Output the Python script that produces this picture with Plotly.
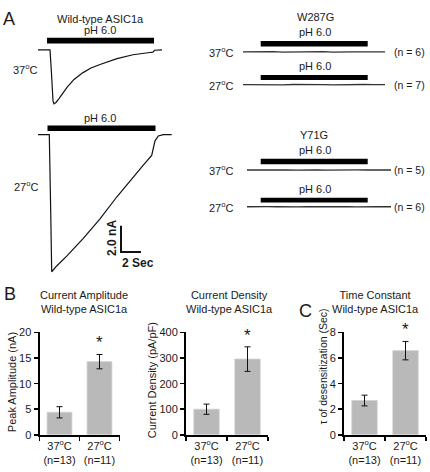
import plotly.graph_objects as go

W, H = 430, 472
FONT = "Liberation Sans, Arial, sans-serif"
TXT = "#1a1a1a"

# ---------------- data ----------------
# Wild-type ASIC1a current traces (time in s, current in nA)
wt37_t = [0, 1.2, 1.35, 1.5, 1.6, 1.8, 2.1, 2.5, 2.9, 3.6, 4.5, 5.3, 6.2, 7.9, 9.5, 11.2, 11.5, 11.65, 12.4]
wt37_i = [0, 0, -1.8, -3.9, -4.1, -4.0, -3.7, -3.25, -2.85, -2.25, -1.73, -1.38, -1.11, -0.67, -0.37, -0.2, -0.17, -0.03, 0]
wt27_t = [0, 1.13, 1.27, 1.37, 1.87, 2.87, 4.53, 6.2, 7.87, 9.53, 10.53, 11.37, 11.53, 11.7, 12.03, 12.53, 13.37]
wt27_i = [0, 0, -5.78, -10.42, -9.98, -9.23, -7.88, -6.4, -4.74, -3.19, -2.32, -1.58, -1.09, -0.47, -0.1, 0, 0]
wt_ph = {"37": (0.9, 11.6), "27": (0.95, 11.75)}

# mutant traces (essentially flat)
mut_t_w = [0, 1, 2, 3, 4, 5, 6, 7, 8, 9, 10, 11, 12, 13, 14.2]
w287g_37 = [0.0, 0.02, -0.01, 0.01, -0.02, 0.0, 0.02, -0.01, 0.01, -0.02, 0.01, 0.0, -0.01, 0.02, 0.0]
w287g_27 = [0.0, -0.01, 0.02, 0.0, -0.02, 0.01, -0.01, 0.02, 0.0, -0.01, 0.01, -0.02, 0.01, 0.0, 0.0]
mut_t_y = [0, 1, 2, 3, 4, 5, 6, 7, 8, 9, 10, 11, 12, 13, 14.4]
y71g_37 = [0.0, 0.01, -0.02, 0.01, 0.0, -0.01, 0.02, 0.0, -0.01, 0.01, -0.02, 0.01, 0.0, -0.01, 0.0]
y71g_27 = [0.0, -0.02, 0.01, 0.0, 0.02, -0.01, 0.0, 0.01, -0.02, 0.0, 0.01, -0.01, 0.02, 0.0, 0.0]
w287g_ph = (1.77, 12.47)
y71g_ph = (1.37, 12.07)
mut_n = {"w37": 6, "w27": 7, "y37": 5, "y27": 6}

# bar charts
cats = ["37<sup>o</sup>C<br>(n=13)", "27<sup>o</sup>C<br>(n=11)"]
amp_mean = [4.4, 14.3]
amp_err = [1.1, 1.4]
dens_mean = [100, 296]
dens_err = [20, 48]
tau_mean = [2.68, 6.58]
tau_err = [0.42, 0.72]

# scale bar (2 s, 2 nA)
SB_T, SB_I = 2.0, 2.0

# ---------------- layout helpers ----------------
PX_PER_S = 10.0
PX_PER_NA = 13.5

def fx(p):
    return p / W

def fy(p):
    return 1 - p / H

fig = go.Figure()
layout = {}
shapes = []
annotations = []

def ann(text, x, y, size=11, xanchor="center", yanchor="middle", bold=False, angle=0, color=TXT):
    annotations.append(dict(
        text=f"<b>{text}</b>" if bold else text, x=fx(x), y=fy(y), xref="paper", yref="paper",
        xanchor=xanchor, yanchor=yanchor, showarrow=False, textangle=angle,
        font=dict(family=FONT, size=size, color=color)))

def trace_axes(idx, x0, x1, base, top, bot):
    xa = "xaxis" if idx == 1 else f"xaxis{idx}"
    ya = "yaxis" if idx == 1 else f"yaxis{idx}"
    layout[xa] = dict(domain=[fx(x0), fx(x1)], range=[0, (x1 - x0) / PX_PER_S],
                      visible=False, anchor=f"y{'' if idx == 1 else idx}")
    layout[ya] = dict(domain=[fy(bot), fy(top)],
                      range=[-(bot - base) / PX_PER_NA, (base - top) / PX_PER_NA],
                      visible=False, anchor=f"x{'' if idx == 1 else idx}")
    return f"x{'' if idx == 1 else idx}", f"y{'' if idx == 1 else idx}"

def ph_bar(xref, on, off, top, bot):
    shapes.append(dict(type="rect", xref=xref, yref="paper", x0=on, x1=off,
                       y0=fy(bot), y1=fy(top), fillcolor="black", line=dict(width=0)))

# ---------------- panel A: wild type ----------------
xr, yr = trace_axes(1, 38, 172, 45, 28, 108)
fig.add_trace(go.Scatter(x=wt37_t, y=wt37_i, mode="lines", xaxis=xr, yaxis=yr,
                         line=dict(color="#111", width=1.2), showlegend=False, hoverinfo="skip"))
ph_bar(xr, *wt_ph["37"], 32.5, 38.5)

xr2, yr2 = trace_axes(2, 38, 178, 132, 118, 280)
fig.add_trace(go.Scatter(x=wt27_t, y=wt27_i, mode="lines", xaxis=xr2, yaxis=yr2,
                         line=dict(color="#111", width=1.2), showlegend=False, hoverinfo="skip"))
ph_bar(xr2, *wt_ph["27"], 122.7, 128.3)
# scale bar
sb_t0 = (121 - 38) / PX_PER_S
sb_i0 = -(252.5 - 132) / PX_PER_NA
fig.add_trace(go.Scatter(x=[sb_t0, sb_t0, sb_t0 + SB_T], y=[sb_i0 + SB_I, sb_i0, sb_i0],
                         mode="lines", xaxis=xr2, yaxis=yr2, line=dict(color="#111", width=2),
                         showlegend=False, hoverinfo="skip"))

ann("A", 9, 13, size=18)
ann("Wild-type ASIC1a", 100, 13)
ann("pH 6.0", 100, 25)
ann("37<sup>o</sup>C", 25, 65)
ann("pH 6.0", 100, 115)
ann("27<sup>o</sup>C", 26, 185)
ann("2.0 nA", 112, 238, size=12, bold=True, angle=-90)
ann("2 Sec", 138, 264, size=12, bold=True)

# ---------------- panel A: mutants ----------------
mut_specs = [
    (3, 243, 386, 47, mut_t_w, w287g_37, w287g_ph, 36, 41.5, "w37"),
    (4, 243, 386, 80.7, mut_t_w, w287g_27, w287g_ph, 70.7, 76, "w27"),
    (5, 247, 392, 168.3, mut_t_y, y71g_37, y71g_ph, 156.7, 162.3, "y37"),
    (6, 247, 392, 206, mut_t_y, y71g_27, y71g_ph, 196.7, 201.7, "y27"),
]
for idx, x0, x1, base, tt, ii, ph, btop, bbot, key in mut_specs:
    xa, ya = trace_axes(idx, x0, x1, base, base - 4, base + 4)
    fig.add_trace(go.Scatter(x=tt, y=ii, mode="lines", xaxis=xa, yaxis=ya,
                             line=dict(color="#333", width=1.3), showlegend=False, hoverinfo="skip"))
    ph_bar(xa, ph[0], ph[1], btop, bbot)
    ann("pH 6.0", 315, btop - 9)
    ann(("37" if key.endswith("37") else "27") + "<sup>o</sup>C", 236, base, xanchor="right")
    ann(f"(n = {mut_n[key]})", 427, base, size=10.5, xanchor="right")

ann("W287G", 315, 11)
ann("Y71G", 314, 132)

# ---------------- bar charts ----------------
bar_specs = [
    (7, 39.5, 119.5, amp_mean, amp_err, [0, 20], 5),
    (8, 186, 268, dens_mean, dens_err, [0, 400], 100),
    (9, 344, 426, tau_mean, tau_err, [0, 8], 2),
]
for idx, x0, x1, mean, err, rng, dt in bar_specs:
    xa, ya = f"x{idx}", f"y{idx}"
    fig.add_trace(go.Bar(x=cats, y=mean, xaxis=xa, yaxis=ya, width=0.62,
                         marker=dict(color="#b9b9b9", line=dict(color="#cfcfcf", width=0.8)),
                         error_y=dict(type="data", array=err, color="#111", thickness=1, width=3),
                         showlegend=False, hoverinfo="skip"))
    layout[f"xaxis{idx}"] = dict(domain=[fx(x0), fx(x1)], anchor=ya, type="category",
                                 range=[-0.5, 1.5], showline=True, linecolor="black", linewidth=2,
                                 ticks="outside", tickson="boundaries", ticklen=4, tickwidth=1.5,
                                 tickcolor="black", showgrid=False, tickangle=0,
                                 tickfont=dict(family=FONT, size=11, color=TXT))
    layout[f"yaxis{idx}"] = dict(domain=[fy(440), fy(335)], anchor=xa, range=rng, dtick=dt,
                                 showline=True, linecolor="black", linewidth=2, ticks="outside",
                                 ticklen=4, tickwidth=1.5, tickcolor="black", showgrid=False,
                                 zeroline=False, tickfont=dict(family=FONT, size=11, color=TXT))
    annotations.append(dict(text="*", x=cats[1], y=mean[1] + err[1], xref=xa, yref=ya,
                            xanchor="center", yanchor="bottom", yshift=0, showarrow=False,
                            font=dict(family=FONT, size=17, color=TXT)))

ann("B", 10, 296, size=18)
ann("Current Amplitude<br>Wild-type ASIC1a", 84, 304)
ann("Current Density<br>Wild-type ASIC1a", 229, 304)
ann("C", 305, 313, size=18)
ann("Time Constant<br>Wild-type ASIC1a", 375, 304)
ann("Peak Amplitude (nA)", 12, 386, angle=-90)
ann("Current Density (pA/pF)", 152, 384, angle=-90)
ann("τ of desensitization (Sec)", 323, 370, size=10.5, angle=-90)

fig.update_layout(width=W, height=H, margin=dict(l=0, r=0, t=0, b=0),
                  paper_bgcolor="white", plot_bgcolor="rgba(0,0,0,0)",
                  shapes=shapes, annotations=annotations, bargap=0.38,
                  font=dict(family=FONT, size=11, color=TXT), **layout)
fig.write_html("out.html", config={"displayModeBar": False, "staticPlot": True},
               post_script="document.body.style.margin='0px';document.body.style.overflow='hidden';")
